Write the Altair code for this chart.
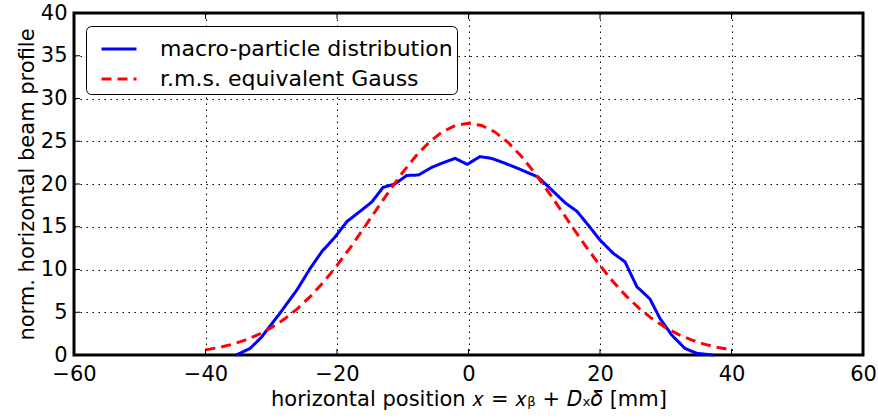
import altair as alt
import pandas as pd

# macro-particle distribution
blue_x = [-35.3, -33.2, -31.5, -28.7, -26.1, -24.1, -22.3, -20.3, -18.5, -16.5,
          -14.7, -13.0, -11.2, -9.4, -7.6, -5.6, -3.8, -2.05, -0.2, 1.75,
          3.5, 5.3, 7.6, 9.1, 10.6, 12.4, 14.7, 16.5, 18.2, 20.0,
          22.0, 23.8, 25.6, 27.6, 29.1, 30.9, 32.9, 34.7, 37.2]
blue_y = [0.0, 0.78, 2.07, 4.87, 7.6, 10.1, 12.1, 13.8, 15.6, 16.8,
          17.9, 19.6, 20.0, 21.0, 21.05, 21.95, 22.5, 23.0, 22.3, 23.2,
          23.0, 22.5, 21.8, 21.3, 20.8, 19.5, 17.8, 16.8, 15.2, 13.45,
          11.9, 10.9, 8.0, 6.55, 4.3, 2.34, 0.78, 0.2, 0.0]

# r.m.s. equivalent Gauss
red_x = [-40, -38, -36, -34, -32, -30, -28, -26, -24, -22, -20, -18, -16, -14,
         -12, -10, -8, -6, -4, -2, 0, 2, 4, 6, 8, 10, 12, 14, 16, 18, 20,
         22, 24, 26, 28, 30, 32, 34, 36, 38, 40]
red_y = [0.60, 0.87, 1.24, 1.73, 2.37, 3.19, 4.20, 5.43, 6.89, 8.57, 10.47,
         12.54, 14.74, 17.01, 19.24, 21.37, 23.27, 24.88, 26.09, 26.84, 27.10,
         26.84, 26.09, 24.88, 23.27, 21.37, 19.24, 17.01, 14.74, 12.54, 10.47,
         8.57, 6.89, 5.43, 4.20, 3.19, 2.37, 1.73, 1.24, 0.87, 0.60]

series_names = ["macro-particle distribution", "r.m.s. equivalent Gauss"]
x_ticks = [-60, -40, -20, 0, 20, 40, 60]
y_ticks = [0, 5, 10, 15, 20, 25, 30, 35, 40]

df = pd.concat([
    pd.DataFrame({"x": blue_x, "y": blue_y, "series": series_names[0], "order": range(len(blue_x))}),
    pd.DataFrame({"x": red_x, "y": red_y, "series": series_names[1], "order": range(len(red_x))}),
])
xt_df = pd.DataFrame({"x": x_ticks})
yt_df = pd.DataFrame({"y": y_ticks})

FONT = "DejaVu Sans"
W, H = 789, 342
TL = 6
xscale = alt.Scale(domain=[-60, 60], nice=False)
yscale = alt.Scale(domain=[0, 40], nice=False)
xaxis = alt.Axis(values=x_ticks, title="horizontal position 𝑥 = 𝑥ᵦ + 𝐷ₓ𝛿 [mm]")
yaxis = alt.Axis(values=y_ticks, title="norm. horizontal beam profile")

lines = alt.Chart(df).mark_line(strokeWidth=3).encode(
    x=alt.X("x:Q", scale=xscale, axis=xaxis),
    y=alt.Y("y:Q", scale=yscale, axis=yaxis),
    color=alt.Color("series:N",
                    scale=alt.Scale(domain=series_names, range=["#0000ff", "#ff0000"]),
                    legend=alt.Legend(title=None, orient="none", legendX=12, legendY=13)),
    strokeDash=alt.StrokeDash("series:N",
                              scale=alt.Scale(domain=series_names, range=[[1, 0], [10, 6]]),
                              legend=alt.Legend(title=None, orient="none", legendX=12, legendY=13)),
    order="order:Q",
)

ytick_left = alt.Chart(yt_df).mark_rule(color="black", strokeWidth=1).encode(
    y=alt.Y("y:Q", scale=yscale, axis=yaxis), x=alt.value(0), x2=alt.value(TL))
ytick_right = alt.Chart(yt_df).mark_rule(color="black", strokeWidth=1).encode(
    y=alt.Y("y:Q", scale=yscale, axis=yaxis), x=alt.value(W - TL), x2=alt.value(W))
xtick_bottom = alt.Chart(xt_df).mark_rule(color="black", strokeWidth=1).encode(
    x=alt.X("x:Q", scale=xscale, axis=xaxis), y=alt.value(H), y2=alt.value(H - TL))
xtick_top = alt.Chart(xt_df).mark_rule(color="black", strokeWidth=1).encode(
    x=alt.X("x:Q", scale=xscale, axis=xaxis), y=alt.value(0), y2=alt.value(TL))

chart = alt.layer(lines, ytick_left, ytick_right, xtick_bottom, xtick_top).properties(
    width=W, height=H,
    autosize=alt.AutoSizeParams(type="none"),
    padding={"left": 74, "top": 13, "right": 15, "bottom": 64},
).configure_view(
    stroke="black", strokeWidth=3
).configure_axis(
    domain=False,
    ticks=False,
    grid=True,
    gridColor="black",
    gridDash=[1.5, 4.5],
    gridWidth=1,
    gridOpacity=1,
    labelFlush=False,
    labelFont=FONT, labelFontSize=21, labelColor="black",
    titleFont=FONT, titleFontSize=21, titleColor="black", titleFontWeight="normal",
).configure_axisX(
    labelPadding=8, titlePadding=4,
).configure_axisY(
    labelPadding=7, titlePadding=3,
).configure_legend(
    labelFont=FONT, labelFontSize=22, labelColor="black",
    strokeColor="black", strokeWidth=1, cornerRadius=5,
    fillColor="white", padding=4, symbolOffset=10,
    symbolType="stroke", symbolSize=1225, symbolStrokeWidth=3,
    labelOffset=22, rowPadding=-4, labelLimit=400,
)

chart.save("out.html", embed_options={"renderer": "svg", "actions": False})
